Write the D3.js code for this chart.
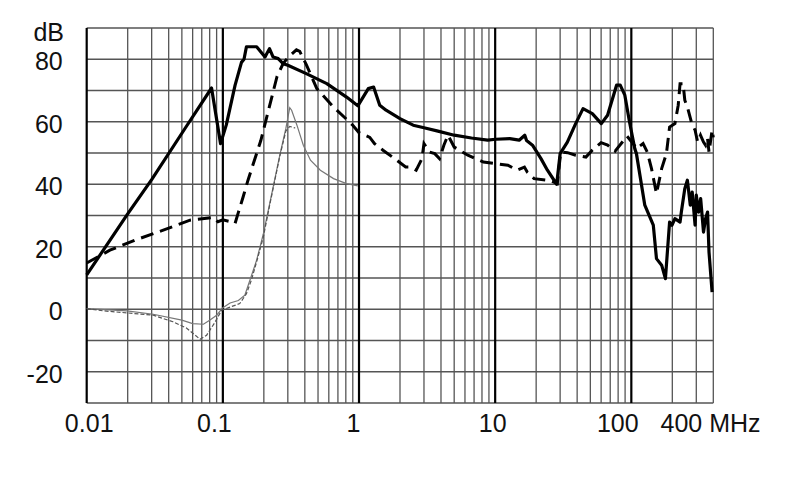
<!DOCTYPE html>
<html>
<head>
<meta charset="utf-8">
<script src="https://cdn.jsdelivr.net/npm/d3@7/dist/d3.min.js"></script>
<style>
  html, body { margin: 0; padding: 0; background: #fff; }
  svg { display: block; }
  text { font-family: "Liberation Sans", Arial, Helvetica, sans-serif; fill: #111; }
</style>
</head>
<body>
<svg id="chart" width="790" height="499"></svg>
<script>
// ---- data ----
const xTickValues = [0.01, 0.1, 1, 10, 100, 400];
const xTickLabels = ["0.01", "0.1", "1", "10", "100", "400 MHz"];
const yTickValues = [-20, 0, 20, 40, 60, 80];
const yUnitLabel = "dB";

// thick solid curve [MHz, dB]
const thickSolidFreq = [0.01,0.02,0.03,0.053,0.0826,0.0962,0.106,0.123,0.137,0.143,0.149,0.177,0.204,0.22,0.234,0.255,0.277,0.3,0.41,0.58,0.81,0.98,1.17,1.28,1.42,1.58,2.0,2.5,3.0,3.8,5.0,6.7,8.8,10.1,12.8,15.0,16.5,17.0,18.8,21.7,24.2,28.3,30.0,33.9,39.0,44.2,51.7,60.2,66.9,77.9,82.9,89.6,97,106,109,125.6,145,153,167,178,191,199,209,228,233,247,258,271,280,294,300,312,323,339,351,363,372,392];
const thickSolidDb   = [11,30.5,41.5,58,70.8,53,59,71.7,79,80,84,84,80.7,83.4,80.7,80.2,78.6,78.1,75.4,72.2,67.9,65.1,70.6,71.1,65.3,63.7,61,58.9,58.1,57,55.7,54.8,54.1,54.4,54.6,54.1,55.7,54,52.5,48.2,44.5,40,49.8,53.5,59.4,64.2,62.6,59.4,62.1,71.7,71.7,68.5,59.9,51.4,49.8,33.3,26.9,16.2,14.1,9.8,27.9,26.9,29,27.9,31.1,38.6,41.3,33.3,37.5,26.9,36.5,31.1,35.4,24.7,29,31.1,18.3,5.5];

// thick dashed curve
const thickDashFreq = [0.01,0.0148,0.0226,0.0365,0.0574,0.085,0.092,0.1,0.115,0.123,0.13,0.141,0.153,0.19,0.25,0.277,0.3,0.347,0.367,0.41,0.49,0.65,0.9,1.0,1.2,1.3,1.5,1.89,2.2,2.4,2.63,2.9,3.0,3.3,3.6,3.9,4.2,4.5,5.0,6.3,8.2,10,12.4,14.5,16.4,17.2,19.3,23.6,26,28.6,30.3,34,39,46.4,51.7,60,67,76,86,93,105,109,122,131,140.7,153,167,181,191,209,221,228,240,247,260,278,294,307,322,339,351,363,372,392,400];
const thickDashDb   = [14.8,18.9,22.1,25.3,28.5,29.4,28,28.6,28,27.5,31,36,41.3,54,74.5,78.6,80.5,83,82.5,78.3,70.6,64.7,58.9,56.5,55,53,50.9,47.7,45.5,45.5,44.5,48.2,53,50.3,49.8,48.2,52.5,55.7,51.9,49.3,47.1,46.6,46.1,44.5,45.5,43.9,41.8,41.3,41,40.2,50.3,50.1,49.3,48.7,50.9,53.3,52.5,50.6,53.5,55.4,52.5,51.4,53,50.3,45,37,45,49.8,58.3,59.4,65.3,72.2,72.2,66.9,64.2,59.4,57.3,53.5,55.7,53.5,52.5,54.6,50.3,57.3,55];

// thin solid curve
const thinSolidFreq = [0.01,0.0197,0.0308,0.05,0.06,0.072,0.08,0.09,0.1,0.113,0.13,0.145,0.158,0.177,0.198,0.22,0.262,0.29,0.31,0.32,0.35,0.39,0.44,0.52,0.65,0.81,0.98];
const thinSolidDb   = [0.2,-0.5,-1.6,-3.5,-4.6,-4.8,-3.5,-1.9,0.5,2,2.8,4.5,9.3,15.7,24,33.5,49.3,57.8,64.5,63.7,58.9,52.5,47.7,44.5,41.8,40.2,39.5];

// thin dashed curve
const thinDashFreq = [0.01,0.0132,0.0308,0.043,0.054,0.068,0.076,0.088,0.098,0.113,0.133,0.149,0.162,0.181,0.198,0.22,0.262,0.29,0.31,0.34];
const thinDashDb   = [0.2,-0.5,-1.9,-4,-6,-9.6,-8.3,-4,-0.3,0.7,1.8,5,9.3,16.7,23,33,49,57,58.5,58];

// ---- layout ----
const svg = d3.select("#chart");
const plotLeft = 86.7, plotRight = 713.3, plotTop = 28, plotBottom = 403;
const fontSize = 25;

const x = d3.scaleLog().domain([0.01, 400]).range([plotLeft, plotRight]);
const y = d3.scaleLinear().domain([-30, 90]).range([plotBottom, plotTop]);

svg.append("rect").attr("width", 790).attr("height", 499).attr("fill", "#fff");

// grid
const minorX = [];
for (let e = -2; e <= 2; e++) {
  for (let k = 2; k <= 9; k++) {
    const v = k * Math.pow(10, e);
    if (v < 400) minorX.push(+v.toPrecision(3));
  }
}
const majorX = [0.01, 0.1, 1, 10, 100];
const gridY = d3.range(-30, 91, 10);

const g = svg.append("g");
g.selectAll("line.hy").data(gridY).join("line")
  .attr("x1", plotLeft).attr("x2", plotRight)
  .attr("y1", d => y(d)).attr("y2", d => y(d))
  .attr("stroke", "#555").attr("stroke-width", 1.3);
g.selectAll("line.mx").data(minorX.concat([400])).join("line")
  .attr("x1", d => x(d)).attr("x2", d => x(d))
  .attr("y1", plotTop).attr("y2", plotBottom)
  .attr("stroke", "#555").attr("stroke-width", 1.3);
g.selectAll("line.Mx").data(majorX).join("line")
  .attr("x1", d => x(d)).attr("x2", d => x(d))
  .attr("y1", plotTop).attr("y2", plotBottom)
  .attr("stroke", "#000").attr("stroke-width", 2.2);

// curves
const line = d3.line().x(d => x(d[0])).y(d => y(d[1]));
function series(fr, db) { return fr.map((f, i) => [f, db[i]]); }

svg.append("path").datum(series(thinSolidFreq, thinSolidDb))
  .attr("d", line).attr("fill", "none").attr("stroke", "#777").attr("stroke-width", 1.2);
svg.append("path").datum(series(thinDashFreq, thinDashDb))
  .attr("d", line).attr("fill", "none").attr("stroke", "#555").attr("stroke-width", 1.2)
  .attr("stroke-dasharray", "4,2");
svg.append("path").datum(series(thickDashFreq, thickDashDb))
  .attr("d", line).attr("fill", "none").attr("stroke", "#000").attr("stroke-width", 3)
  .attr("stroke-dasharray", "13,7");
svg.append("path").datum(series(thickSolidFreq, thickSolidDb))
  .attr("d", line).attr("fill", "none").attr("stroke", "#000").attr("stroke-width", 3.2)
  .attr("stroke-linejoin", "round");

// y axis labels
const yAxis = d3.axisLeft(y).tickValues(yTickValues).tickSize(0).tickPadding(24)
  .tickFormat(d => String(d));
const ya = svg.append("g").attr("transform", `translate(${plotLeft},0)`).call(yAxis);
ya.select(".domain").remove();
ya.selectAll("text").attr("font-size", fontSize).attr("fill", "#111")
  .attr("font-family", "Liberation Sans, Arial, sans-serif").attr("dy", "0.42em");
svg.append("text").attr("x", 64).attr("y", 41).attr("text-anchor", "end")
  .attr("font-size", fontSize).text(yUnitLabel);

// x axis labels
const xNudge = [2, -9, -6, -3, -14, 0];
const xAxis = d3.axisBottom(x).tickValues(xTickValues).tickSize(0).tickPadding(11)
  .tickFormat((d, i) => xTickLabels[i]);
const xa = svg.append("g").attr("transform", `translate(0,${plotBottom})`).call(xAxis);
xa.select(".domain").remove();
xa.selectAll("text").attr("font-size", fontSize).attr("fill", "#111")
  .attr("font-family", "Liberation Sans, Arial, sans-serif")
  .each(function(d, i) {
    const t = d3.select(this);
    if (i === xTickValues.length - 1) {
      t.attr("text-anchor", "start").attr("x", 660 - x(d));
    } else {
      t.attr("x", xNudge[i]);
    }
  });
</script>
</body>
</html>
